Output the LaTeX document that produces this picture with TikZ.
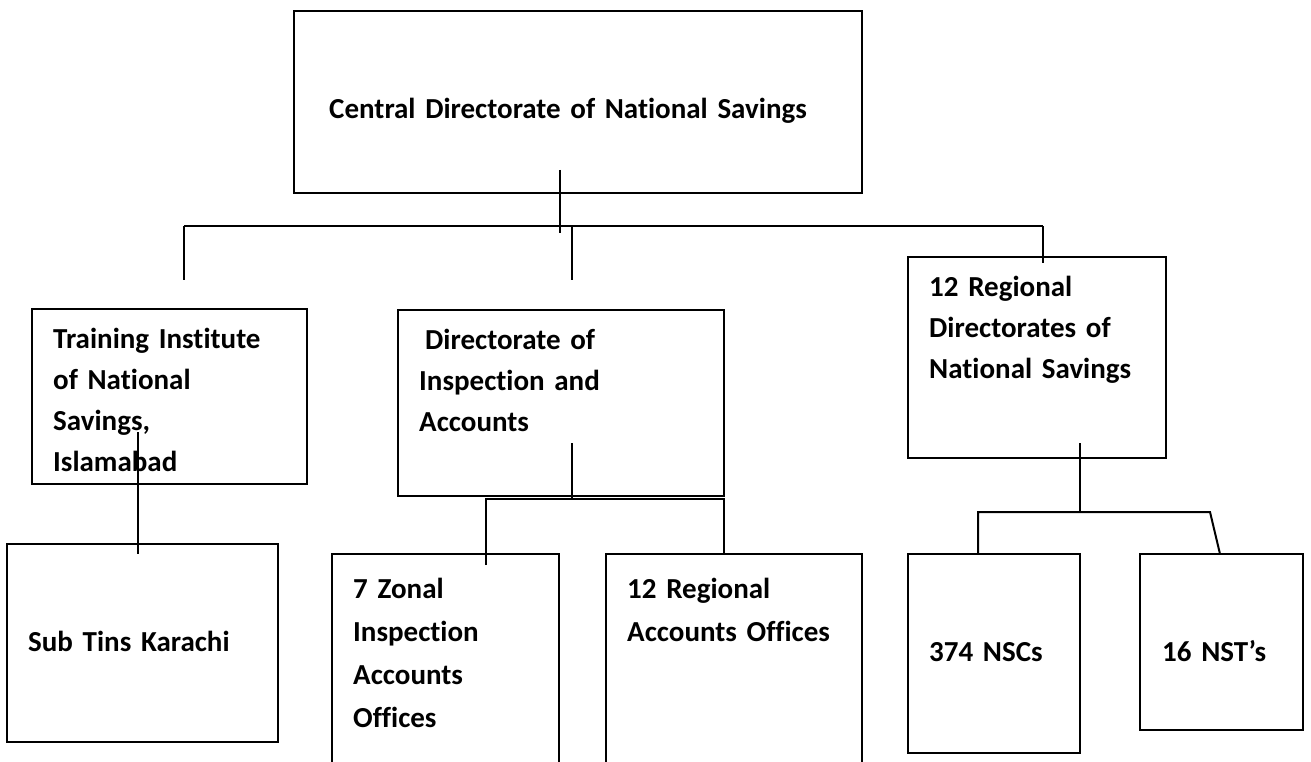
\documentclass[tikz,border=0pt]{standalone}
\usepackage{fontspec}
\setmainfont{Carlito}[Ligatures=NoCommon]
\usetikzlibrary{positioning,calc}
\definecolor{bordercolor}{RGB}{0,0,0}
\definecolor{linkcolor}{RGB}{0,0,0}
\DeclareRobustCommand\orgfont{\fontsize{29}{41}\selectfont\bfseries\spaceskip=0.17em\relax}
\DeclareRobustCommand\orgfontwide{\fontsize{29}{43}\selectfont\bfseries\spaceskip=0.17em\relax}
\tikzset{
    orgbox/.style={
        rectangle,
        draw=bordercolor,
        line width=2pt,
        anchor=north west,
        inner sep=0pt,
        outer sep=0pt
    },
    orgtext/.style={
        anchor=base west,
        inner sep=0pt,
        text width=#1,
        align=left,
        font=\orgfont
    },
    orgtext/.default=300pt,
    widetext/.style={orgtext, font=\orgfontwide},
    link/.style={line width=2pt, color=linkcolor}
}

\begin{document}
\begin{tikzpicture}[x=1pt, y=-1pt]
    \useasboundingbox (0,0) rectangle (1311,762);
    \clip (0,0) rectangle (1311,762);

    % Top
    \node[orgbox, minimum width=568pt, minimum height=182pt] (cdns) at (294,11) {};
    \node[orgtext=540pt] (cdnstxt) at (329,119) {Central Directorate of National Savings};

    % Second level
    \node[orgbox, minimum width=275pt, minimum height=175pt] (tins) at (32,309) {};
    \node[orgtext] (tinstxt) at (53,348) {Training Institute\\of National\\Savings,\\Islamabad};
    \node[orgbox, minimum width=326pt, minimum height=186pt] (dia) at (398,310) {};
    \node[orgtext] (diatxt) at (419,349) {\hspace*{6pt}Directorate of\\Inspection and\\Accounts};
    \node[orgbox, minimum width=258pt, minimum height=201pt] (rdns) at (908,257) {};
    \node[orgtext] (rdnstxt) at (929,296) {12 Regional\\Directorates of\\National Savings};

    % Third level
    \node[orgbox, minimum width=271pt, minimum height=198pt] (subtins) at (7,544) {};
    \node[orgtext] (subtinstxt) at (28,651) {Sub Tins Karachi};
    \node[orgbox, minimum width=227pt, minimum height=230pt] (zonal) at (332,554) {};
    \node[widetext] (zonaltxt) at (353,598) {7 Zonal\\Inspection\\Accounts\\Offices};
    \node[orgbox, minimum width=256pt, minimum height=230pt] (raoff) at (606,554) {};
    \node[widetext] (raofftxt) at (627,598) {12 Regional\\Accounts Offices};
    \node[orgbox, minimum width=172pt, minimum height=199pt] (nscs) at (908,554) {};
    \node[orgtext] (nscstxt) at (929,661) {374 NSCs};
    \node[orgbox, minimum width=163pt, minimum height=176pt] (nsts) at (1140,554) {};
    \node[orgtext] (nststxt) at (1162,661) {16 NST’s};

    % Bus points
    \coordinate (cdstub) at (560,170);
    \coordinate (topbus) at (560,226);
    \coordinate (busL) at (184,226);
    \coordinate (busM) at (572,226);
    \coordinate (busR) at (1043,226);
    \coordinate (tinsdrop) at (184,280);
    \coordinate (diadrop) at (572,280);
    \coordinate (tinsstub) at (138,432);
    \coordinate (diastub) at (572,443);
    \coordinate (diabus) at (572,499);
    \coordinate (diabusL) at (486,499);
    \coordinate (diabusR) at (724,499);
    \coordinate (rdnsstub) at (1080,443);
    \coordinate (rdnsbus) at (1080,512);
    \coordinate (rbusL) at (978,512);
    \coordinate (rbusR) at (1210,512);

    % Links
    \draw[link] (cdstub) -- ($(topbus)+(0,7)$);
    \draw[link] (busL) -- (busR);
    \draw[link] (busL) -- (tinsdrop);
    \draw[link] (busM) -- (diadrop);
    \draw[link] (busR) -- ($(busR |- rdns.north)+(0,6)$);
    \draw[link] (tinsstub) -- ($(tinsstub |- subtins.north)+(0,10)$);
    \draw[link] (diastub) -- (diabus);
    \draw[link] ($(diabusL |- zonal.north)+(0,11)$) -- (diabusL) -- (diabusR) -- (diabusR |- raoff.north);
    \draw[link] (rdnsstub) -- (rdnsbus);
    \draw[link] (rbusL |- nscs.north) -- (rbusL) -- (rbusR) -- ($(rbusR |- nsts.north)+(10,0)$);
\end{tikzpicture}
\end{document}
